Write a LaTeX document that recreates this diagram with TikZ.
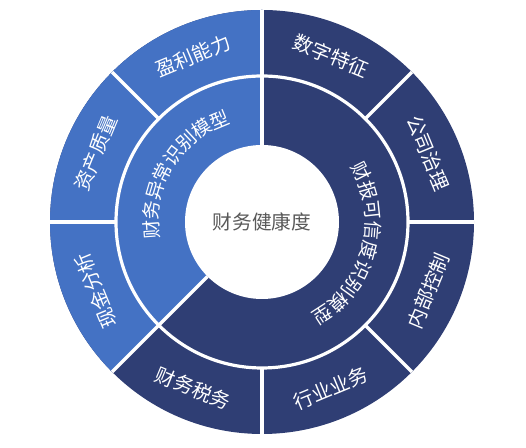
\documentclass[tikz,border=0pt]{standalone}
\usepackage{fontspec}
\usepackage{xcolor}
\newfontfamily\cjk{Noto Sans CJK SC}
\definecolor{lightseg}{HTML}{4472C4}
\definecolor{darkseg}{HTML}{2F3E74}
\definecolor{midtext}{HTML}{595959}

\begin{document}
\begin{tikzpicture}[
    x=0.25mm, y=0.25mm,
    outerlabel/.style={text=white, inner sep=0pt, font=\cjk\fontsize{14}{16}\selectfont},
    ringchar/.style={text=white, inner sep=0pt, font=\cjk\fontsize{13.5}{16}\selectfont},
    gap/.style={white, line width=0.8mm}
]
\useasboundingbox (0,0) rectangle (526,448);
\coordinate (c) at (262,226);

% rings
\fill[darkseg] (c) circle[radius=212];
\fill[lightseg] (c) -- ++(90:212) arc[start angle=90, end angle=225, radius=212] -- cycle;
\fill[white] (c) circle[radius=77];
\draw[gap] (c) circle[radius=146];
\foreach \a in {0,45,...,315}
  \draw[gap] ([shift={(\a:146)}]c) -- ([shift={(\a:212)}]c);
\foreach \a in {90,225}
  \draw[gap] ([shift={(\a:77)}]c) -- ([shift={(\a:146)}]c);

\node[font=\cjk\fontsize{14}{16}\selectfont, text=midtext] (health) at (c) {财务健康度};

% outer ring labels
\foreach \ang/\rot/\txt/\nm in {67.5/-22.5/数字特征/szfeature, 22.5/-67.5/公司治理/governance,
    -22.5/67.5/内部控制/control, -67.5/22.5/行业业务/industry, -112.5/-22.5/财务税务/tax,
    202.5/112.5/现金分析/cash, 157.5/67.5/资产质量/asset, 112.5/22.5/盈利能力/profit}
  \node[outerlabel, rotate=\rot] (\nm) at ([shift={(\ang:180)}]c) {\txt};

% inner ring labels, one character at a time
\foreach \ch [count=\i from 0, evaluate=\i as \a using 184-10.2*\i] in {财,务,异,常,识,别,模,型}
  \node[ringchar, rotate=\a-90] (abn\i) at ([shift={(\a:111)}]c) {\ch};
\foreach \ch [count=\i from 0, evaluate=\i as \a using 27-10.5*\i] in {财,报,可,信,度,识,别,模,型}
  \node[ringchar, rotate=\a-90] (cred\i) at ([shift={(\a:111)}]c) {\ch};

\end{tikzpicture}
\end{document}
